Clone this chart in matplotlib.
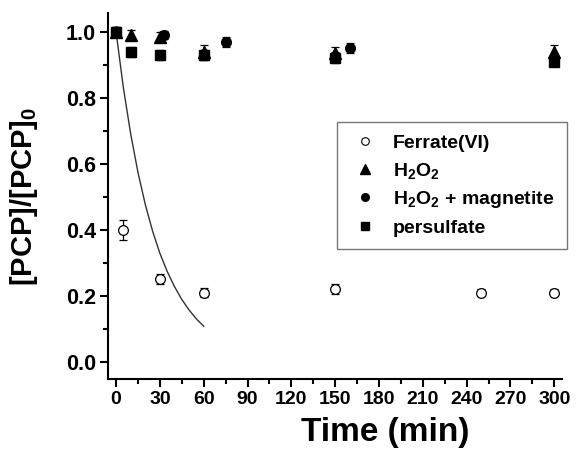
import matplotlib
matplotlib.use("Agg")
import matplotlib.pyplot as plt
from matplotlib.ticker import MultipleLocator
from matplotlib.lines import Line2D

plt.rcParams['font.family'] = ['Liberation Sans', 'DejaVu Sans']
plt.rcParams['font.weight'] = 'bold'
plt.rcParams['mathtext.fontset'] = 'custom'
plt.rcParams['mathtext.rm'] = 'Liberation Sans:bold'
plt.rcParams['mathtext.bf'] = 'Liberation Sans:bold'
plt.rcParams['mathtext.default'] = 'bf'

# Data
ferrate_t = [0, 5, 30, 60, 150, 250, 300]
ferrate_y = [1.0, 0.40, 0.25, 0.21, 0.22, 0.21, 0.21]
ferrate_e = [0.01, 0.03, 0.015, 0.015, 0.015, 0.012, 0.012]

h2o2_t = [0, 10, 30, 60, 150, 300]
h2o2_y = [1.0, 0.99, 0.985, 0.94, 0.935, 0.94]
h2o2_e = [0.015, 0.015, 0.015, 0.02, 0.02, 0.02]

mag_t = [0, 33, 60, 75, 150, 160, 300]
mag_y = [1.0, 0.99, 0.93, 0.97, 0.925, 0.95, 0.915]
mag_e = [0.015, 0.012, 0.015, 0.015, 0.015, 0.015, 0.015]

pers_t = [0, 10, 30, 60, 150, 300]
pers_y = [1.0, 0.94, 0.93, 0.93, 0.92, 0.91]
pers_e = [0.015, 0.015, 0.015, 0.015, 0.015, 0.015]

# fitted decay curve for Ferrate(VI)
fit_t = [0, 5, 10, 15, 20, 25, 30, 35, 40, 45, 50, 55, 60]
fit_y = [1.0, 0.831, 0.691, 0.574, 0.477, 0.396, 0.329, 0.274, 0.228, 0.189, 0.157, 0.130, 0.108]

legend_labels = ['Ferrate(VI)', r'H$_2$O$_2$', r'H$_2$O$_2$ + magnetite', 'persulfate']

fig = plt.figure(figsize=(5.82, 4.53), dpi=100)
ax = fig.add_axes([0.1861, 0.1634, 0.9662 - 0.1861, 0.9706 - 0.1634])

ax.plot(fit_t, fit_y, color='#333333', lw=1.0, zorder=1)

ebkw = dict(ecolor='black', elinewidth=0.9, capsize=3, capthick=0.9, linestyle='none')
ax.errorbar(ferrate_t, ferrate_y, yerr=ferrate_e, marker='o', ms=7, mfc='white',
            mec='black', mew=0.9, zorder=2, **ebkw)
ax.errorbar(pers_t, pers_y, yerr=pers_e, marker='s', ms=6.5, mfc='black',
            mec='black', zorder=3, **ebkw)
ax.errorbar(mag_t, mag_y, yerr=mag_e, marker='o', ms=7, mfc='black',
            mec='black', zorder=3, **ebkw)
ax.errorbar(h2o2_t, h2o2_y, yerr=h2o2_e, marker='^', ms=8, mfc='black',
            mec='black', zorder=4, **ebkw)

ax.set_xlim(-5.3, 305.5)
ax.set_ylim(-0.052, 1.056)
ax.xaxis.set_major_locator(MultipleLocator(30))
ax.xaxis.set_minor_locator(MultipleLocator(15))
ax.yaxis.set_minor_locator(MultipleLocator(0.1))
ax.set_yticks([0.0, 0.2, 0.4, 0.6, 0.8, 1.0])
ax.set_yticklabels(['0.0', '0.2', '0.4', '0.6', '0.8', '1.0'])

for s in ['top', 'right']:
    ax.spines[s].set_visible(False)
for s in ['left', 'bottom']:
    ax.spines[s].set_linewidth(1.5)
ax.tick_params(which='major', direction='out', length=6, width=1.5, pad=3)
ax.tick_params(axis='x', labelsize=14)
ax.tick_params(axis='y', labelsize=15.5)
ax.tick_params(which='minor', direction='out', length=3.5, width=1.5)
for lab in ax.get_xticklabels() + ax.get_yticklabels():
    lab.set_fontweight('bold')

ax.set_xlabel('Time (min)', fontsize=24, fontweight='bold')
ax.xaxis.set_label_coords(0.61, -0.105)
ax.set_ylabel(r'[PCP]/[PCP]$_0$', fontsize=21, fontweight='bold')
ax.yaxis.set_label_coords(-0.150, 0.5)

leg_handles = [
    Line2D([], [], marker='o', ls='none', mfc='white', mec='black', ms=5.5, mew=0.8),
    Line2D([], [], marker='^', ls='none', mfc='black', mec='black', ms=7),
    Line2D([], [], marker='o', ls='none', mfc='black', mec='black', ms=5.5),
    Line2D([], [], marker='s', ls='none', mfc='black', mec='black', ms=5.5),
]
leg = ax.legend(leg_handles, legend_labels, loc='upper left',
                bbox_to_anchor=(0.504, 0.704), frameon=True, fancybox=False,
                edgecolor='#555555', fontsize=14, handletextpad=0.6,
                handlelength=1.6, labelspacing=0.45, borderpad=0.65,
                borderaxespad=0)
leg.get_frame().set_linewidth(1.0)
for t in leg.get_texts():
    t.set_fontweight('bold')

fig.savefig('out.png', dpi=100)
